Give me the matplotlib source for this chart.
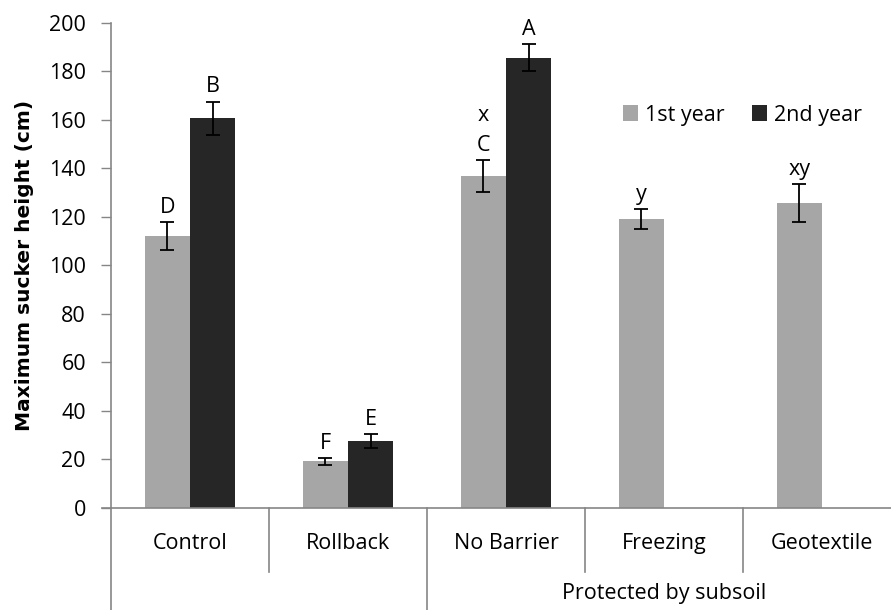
import numpy as np
import matplotlib.pyplot as plt

# --- data ---
categories = ['Control', 'Rollback', 'No Barrier', 'Freezing', 'Geotextile']
group_label = 'Protected by subsoil'
year1 = [112.0, 19.1, 136.8, 119.0, 125.7]
year1_err = [5.7, 1.3, 6.6, 4.0, 7.8]
year2 = [160.6, 27.5, 185.6, np.nan, np.nan]
year2_err = [6.9, 3.0, 5.7, np.nan, np.nan]
year1_letters = ['D', 'F', 'x\nC', 'y', 'xy']
year2_letters = ['B', 'E', 'A', '', '']
series_names = ['1st year', '2nd year']
yticks = [0, 20, 40, 60, 80, 100, 120, 140, 160, 180, 200]

W, H = 891, 610
fig = plt.figure(figsize=(W / 100, H / 100), dpi=100)
ax = fig.add_axes([111 / W, (H - 507.7) / H, 780 / W, 485 / H])

font = 'Open Sans'
fs = 15.5
grey = '#868686'
c1, c2 = '#a6a6a6', '#262626'

x = np.arange(len(categories))
bw = 0.285
ax.bar(x - bw / 2, year1, bw, color=c1, label=series_names[0], zorder=2)
ax.bar(x + bw / 2, year2, bw, color=c2, label=series_names[1], zorder=2)
ax.errorbar(x - bw / 2, year1, yerr=year1_err, fmt='none', ecolor='black',
            elinewidth=1.3, capsize=5, capthick=1.3, zorder=3)
ax.errorbar(x + bw / 2, year2, yerr=year2_err, fmt='none', ecolor='black',
            elinewidth=1.3, capsize=5, capthick=1.3, zorder=3)

# significance letters above the error bars
for xs, vals, errs, labs in [(x - bw / 2, year1, year1_err, year1_letters),
                             (x + bw / 2, year2, year2_err, year2_letters)]:
    for xi, v, e, lab in zip(xs, vals, errs, labs):
        if lab:
            ax.annotate(lab, (xi, v + e), xytext=(0, 3), textcoords='offset points',
                        ha='center', va='bottom', fontsize=fs, family=font,
                        linespacing=1.55)

ax.set_xlim(-0.5, 780 / 158 - 0.5)
ax.set_ylim(0, 200)
ax.set_yticks(yticks)
ax.set_xticks([])
ax.tick_params(axis='y', direction='out', length=7, width=1, color=grey,
               labelsize=fs, pad=11)
for lbl in ax.get_yticklabels():
    lbl.set_family(font)

for s in ['top', 'right']:
    ax.spines[s].set_visible(False)
for s in ['left', 'bottom']:
    ax.spines[s].set_color(grey)
    ax.spines[s].set_linewidth(1.2)
ax.spines['bottom'].set_bounds(-0.5 - 9 / 158, 780 / 158 - 0.5)

ax.set_ylabel('Maximum sucker height (cm)', fontsize=14.5, fontweight='bold',
              family='DejaVu Sans', labelpad=11)

# category labels and separators below the axis
trans = ax.get_xaxis_transform()
for xi, cat in zip(x, categories):
    ax.text(xi, -0.073, cat, transform=trans, ha='center', va='center',
            fontsize=fs, family=font)
ax.text(3, -0.176, group_label, transform=trans, ha='center', va='center',
        fontsize=fs, family=font)
for sx in [0.5, 2.5, 3.5]:
    ax.plot([sx, sx], [0, -0.133], transform=trans, color=grey, lw=1.2, clip_on=False)
for sx in [-0.5, 1.5]:
    ax.plot([sx, sx], [0, -0.25], transform=trans, color=grey, lw=1.2, clip_on=False)

ax.legend(loc='center left', bbox_to_anchor=((623 - 111) / 780, (507.7 - 115) / 485),
          ncol=2, frameon=False, borderpad=0, borderaxespad=0,
          handlelength=0.7, handleheight=0.7, handletextpad=0.33,
          columnspacing=1.25, prop={'family': font, 'size': fs})

fig.savefig('out.png', dpi=100)
